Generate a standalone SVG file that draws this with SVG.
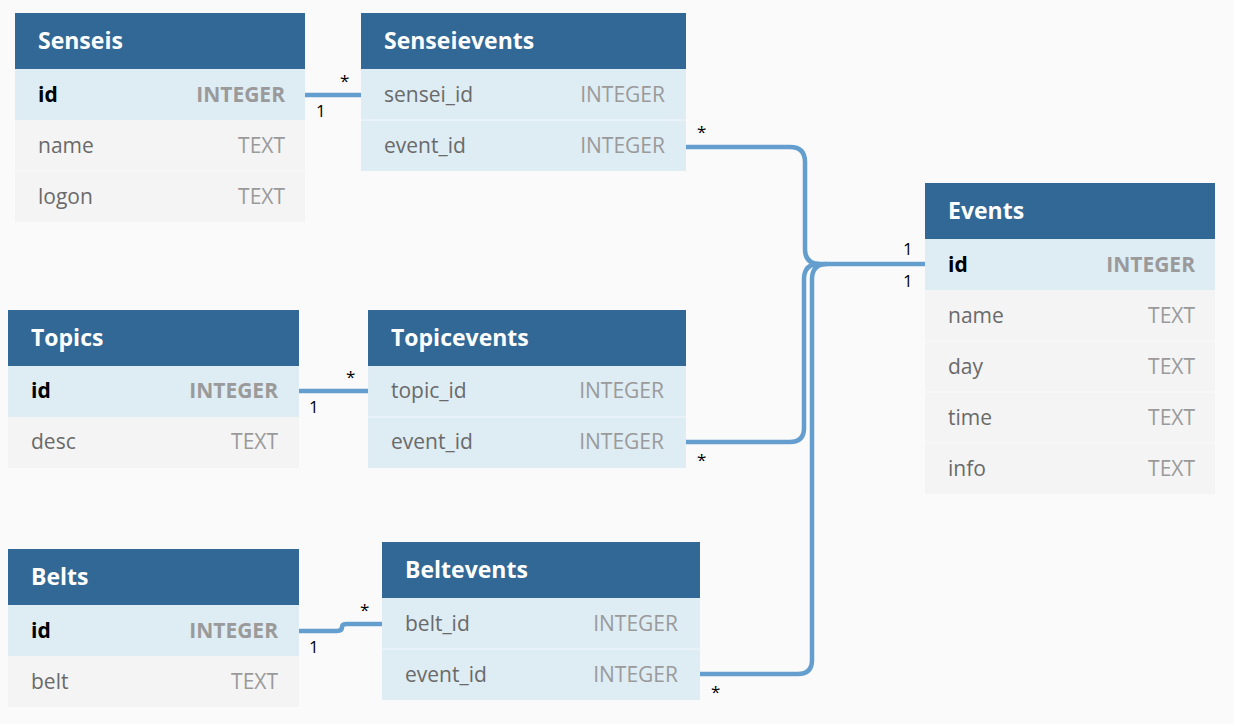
<svg xmlns="http://www.w3.org/2000/svg" width="1234" height="724" viewBox="0 0 1234 724">
<style>
.bg{fill:#fafafa}
.hd{fill:#316896}
.hl{fill:#deecf4}
.nr{fill:#f4f4f4}
.sep{stroke:#ffffff;stroke-width:1;opacity:0.6}
.title{font-family:"Open Sans","Liberation Sans",sans-serif;font-weight:bold;font-size:23px;fill:#ffffff}
.fk{font-family:"Open Sans","Liberation Sans",sans-serif;font-size:21px;fill:#000000;font-weight:bold}
.fn{font-family:"Open Sans","Liberation Sans",sans-serif;font-size:21px;fill:#6a6a6a}
.tk{font-family:"Open Sans","Liberation Sans",sans-serif;font-size:21px;fill:#9a9a9a;font-weight:bold;text-anchor:end}
.tn{font-family:"Open Sans","Liberation Sans",sans-serif;font-size:21px;fill:#9a9a9a;text-anchor:end}
.conn{fill:none;stroke:#639ecf;stroke-width:4.5}
.lbl{font-family:"Open Sans","Liberation Sans",sans-serif;font-size:17px;fill:#000000}
</style>
<rect class="bg" x="0" y="0" width="1234" height="724"/>
<g id="connectors">
<path class="conn" d="M305 95 H361"/>
<path class="conn" d="M299 391 H368"/>
<path class="conn" d="M299 631 H337 Q342 631 342 627 Q342 624 347 624 H382"/>
<path class="conn" d="M686 147 H790 Q805 147 805 162 V249 Q805 264 820 264 H925"/>
<path class="conn" d="M686 442 H790 Q804 442 804 428 V279 Q804 264 819 264"/>
<path class="conn" d="M700 674 H798 Q812 674 812 660 V279 Q812 264 827 264"/>
<text class="lbl" x="316" y="117">1</text>
<text class="lbl" x="340" y="87">*</text>
<text class="lbl" x="309" y="413">1</text>
<text class="lbl" x="346" y="383">*</text>
<text class="lbl" x="309" y="653">1</text>
<text class="lbl" x="360" y="616">*</text>
<text class="lbl" x="697" y="138">*</text>
<text class="lbl" x="697" y="466">*</text>
<text class="lbl" x="711" y="698">*</text>
<text class="lbl" x="903" y="255">1</text>
<text class="lbl" x="903" y="287">1</text>
</g>
<g id="senseis">
<rect class="hd" x="15" y="13" width="290" height="56"/>
<rect class="hl" x="15" y="69" width="290" height="51"/>
<rect class="nr" x="15" y="120" width="290" height="102"/>
<line class="sep" x1="15" y1="171" x2="305" y2="171"/>
<text class="title" x="38" y="49">Senseis</text>
<text class="fk" x="38" y="102">id</text><text class="tk" x="285" y="102">INTEGER</text>
<text class="fn" x="38" y="153">name</text><text class="tn" x="285" y="153">TEXT</text>
<text class="fn" x="38" y="204">logon</text><text class="tn" x="285" y="204">TEXT</text>
</g>
<g id="senseievents">
<rect class="hd" x="361" y="13" width="325" height="56"/>
<rect class="hl" x="361" y="69" width="325" height="102"/>
<line class="sep" x1="361" y1="120" x2="686" y2="120"/>
<text class="title" x="384" y="49">Senseievents</text>
<text class="fn" x="384" y="102">sensei_id</text><text class="tn" x="665" y="102">INTEGER</text>
<text class="fn" x="384" y="153">event_id</text><text class="tn" x="665" y="153">INTEGER</text>
</g>
<g id="events">
<rect class="hd" x="925" y="183" width="290" height="56"/>
<rect class="hl" x="925" y="239" width="290" height="51"/>
<rect class="nr" x="925" y="290" width="290" height="204"/>
<line class="sep" x1="925" y1="341" x2="1215" y2="341"/>
<line class="sep" x1="925" y1="392" x2="1215" y2="392"/>
<line class="sep" x1="925" y1="443" x2="1215" y2="443"/>
<text class="title" x="948" y="219">Events</text>
<text class="fk" x="948" y="272">id</text><text class="tk" x="1195" y="272">INTEGER</text>
<text class="fn" x="948" y="323">name</text><text class="tn" x="1195" y="323">TEXT</text>
<text class="fn" x="948" y="374">day</text><text class="tn" x="1195" y="374">TEXT</text>
<text class="fn" x="948" y="425">time</text><text class="tn" x="1195" y="425">TEXT</text>
<text class="fn" x="948" y="476">info</text><text class="tn" x="1195" y="476">TEXT</text>
</g>
<g id="topics">
<rect class="hd" x="8" y="310" width="291" height="56"/>
<rect class="hl" x="8" y="366" width="291" height="51"/>
<rect class="nr" x="8" y="417" width="291" height="51"/>
<text class="title" x="31" y="346">Topics</text>
<text class="fk" x="31" y="398">id</text><text class="tk" x="278" y="398">INTEGER</text>
<text class="fn" x="31" y="449">desc</text><text class="tn" x="278" y="449">TEXT</text>
</g>
<g id="topicevents">
<rect class="hd" x="368" y="310" width="318" height="56"/>
<rect class="hl" x="368" y="366" width="318" height="102"/>
<line class="sep" x1="368" y1="417" x2="686" y2="417"/>
<text class="title" x="391" y="346">Topicevents</text>
<text class="fn" x="391" y="398">topic_id</text><text class="tn" x="664" y="398">INTEGER</text>
<text class="fn" x="391" y="449">event_id</text><text class="tn" x="664" y="449">INTEGER</text>
</g>
<g id="belts">
<rect class="hd" x="8" y="549" width="291" height="56"/>
<rect class="hl" x="8" y="605" width="291" height="51"/>
<rect class="nr" x="8" y="656" width="291" height="51"/>
<text class="title" x="31" y="585">Belts</text>
<text class="fk" x="31" y="638">id</text><text class="tk" x="278" y="638">INTEGER</text>
<text class="fn" x="31" y="689">belt</text><text class="tn" x="278" y="689">TEXT</text>
</g>
<g id="beltevents">
<rect class="hd" x="382" y="542" width="318" height="56"/>
<rect class="hl" x="382" y="598" width="318" height="102"/>
<line class="sep" x1="382" y1="649" x2="700" y2="649"/>
<text class="title" x="405" y="578">Beltevents</text>
<text class="fn" x="405" y="631">belt_id</text><text class="tn" x="678" y="631">INTEGER</text>
<text class="fn" x="405" y="682">event_id</text><text class="tn" x="678" y="682">INTEGER</text>
</g>
</svg>
